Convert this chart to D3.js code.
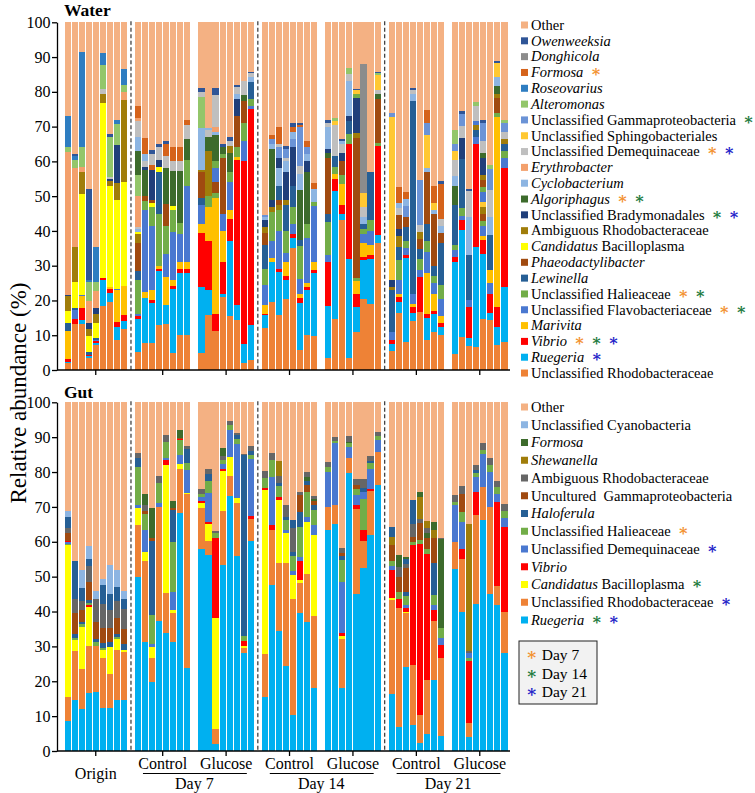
<!DOCTYPE html>
<html><head><meta charset="utf-8">
<script src="https://cdn.jsdelivr.net/npm/d3@7"></script>
<style>body{margin:0;background:#fff}svg{display:block}svg text{font-family:"Liberation Serif","Times New Roman",Times,"Nimbus Roman","DejaVu Serif",serif;fill:#000}</style>
</head><body><svg id="c" width="755" height="793" font-family="Liberation Serif, Times New Roman, DejaVu Serif, serif"></svg>
<script>
// ---------- categories (legend order, top to bottom) ----------
const waterKeys = ["Other","Ow","Do","Fo","Ro","Al","UG","US","UD","Er","Cy","Ag","UB","AR","CB","Ph","Le","UH","UF","Ma","Vi","Ru","UR"];
const waterLabels = ["Other","Owenweeksia","Donghicola","Formosa","Roseovarius","Alteromonas","Unclassified Gammaproteobacteria","Unclassified Sphingobacteriales","Unclassified Demequinaceae","Erythrobacter","Cyclobacterium","Algoriphagus","Unclassified Bradymonadales","Ambiguous Rhodobacteraceae","Candidatus Bacilloplasma","Phaeodactylibacter","Lewinella","Unclassified Halieaceae","Unclassified Flavobacteriaceae","Marivita","Vibrio","Ruegeria","Unclassified Rhodobacteraceae"];
const waterStars = ["","","","o","","","g","","ob","","","og","gb","","","","","og","og","","ogb","b",""];

const gutKeys = ["Other","UC","Fo","Sh","AR","UG","Ha","UH","UD","Vi","CB","UR","Ru"];
const gutLabels = ["Other","Unclassified Cyanobacteria","Formosa","Shewanella","Ambiguous Rhodobacteraceae","Uncultured  Gammaproteobacteria","Haloferula","Unclassified Halieaceae","Unclassified Demequinaceae","Vibrio","Candidatus Bacilloplasma","Unclassified Rhodobacteraceae","Ruegeria"];
const gutStars = ["","","","","","","","o","b","","g","b","gb"];

const dayLabels = ["Day 7","Day 14","Day 21"];
const treatmentLabels = ["Control","Glucose"];
const originLabel = "Origin";

// ---------- water values (% per bar, bottom to top segments) ----------
const waterOrigin = [
 [["UR",1.9],["Ru",0.4],["Vi",0.9],["Ma",7.9],["Le",2.4],["CB",3.6],["AR",4.1],["UB",0.5],["Er",40.9],["Al",1.4],["Ro",9]],
 [["UR",13.3],["Vi",1.4],["UF",2.5],["Le",0.7],["CB",7.5],["AR",10.1],["Er",22.5],["Al",2.5],["Ro",1],["Ow",0.5]],
 [["UR",13.3],["Ru",1.2],["Vi",3.4],["Ma",3.3],["UF",0.5],["CB",29],["AR",6.2],["Er",1.4],["Al",5.9],["Ro",27.2]],
 [["UR",3.5],["Ru",0.5],["Vi",0.4],["Le",0.8],["CB",4.5],["AR",2],["UB",1.8],["Er",6.3],["Al",5.5],["Ro",0.5],["Ow",26.2]],
 [["UR",7.3],["Ru",0.6],["Vi",0.3],["UF",0.5],["Le",0.5],["CB",4.3],["AR",2.5],["UB",1.8],["Er",5],["Al",2.6],["Ro",10]],
 [["UR",18.5],["Ru",7.5],["Vi",0.5],["CB",50.2],["AR",2.8],["UD",1.3],["Al",6.8],["Ro",3.5]],
 [["UR",19.7],["Ru",2.5],["Vi",1.2],["Ma",0.5],["CB",29],["AR",1.6],["UB",0.5],["UD",0.5],["Al",11.5],["Ow",0.8]],
 [["UR",8.7],["Ru",3.8],["Vi",1.4],["Ma",9],["UF",0.5],["CB",25.6],["AR",4.8],["UB",10.8],["Al",6.1],["Ro",1.1]],
 [["UR",11.8],["Ru",2.2],["Vi",1.9],["Ma",8.2],["CB",30],["AR",23.5],["Er",2.4],["Al",2],["Ro",4.6]]
];
const waterD7Control = [
 [["UR",5.3],["Ru",9.5],["Vi",0.6],["UF",0.6],["UH",10],["Le",2.5],["Ph",8],["AR",2.5],["CB",0.7],["Cy",0.8],["UD",0.5],["Er",9],["Al",6],["Ag",7],["Cy",4],["UD",4.5],["Er",1],["Fo",3.3]],
 [["UR",7.7],["Ru",13],["Ma",1.6],["UF",23.7],["UH",2.5],["Ph",1.5],["Ag",7.5],["UB",1],["UD",1.5],["Cy",2],["Fo",4.8]],
 [["UR",7.9],["Ru",11.4],["Vi",0.7],["Ma",3],["UF",18.5],["UH",5.5],["CB",1],["Ph",1],["UB",8.5],["Fo",1.5],["UD",3],["Ow",1.4]],
 [["UR",13],["Ru",15.5],["Vi",0.5],["Ma",1],["UH",15],["Le",12],["CB",1.5],["UB",2],["UD",3.5],["Ow",1]],
 [["UR",13.3],["Ru",5.5],["Ma",8],["UF",6.5],["UH",8],["Ph",6.5],["Ag",10.3],["UD",3.5],["Fo",3.3],["Ow",0.9]],
 [["UR",4.8],["Ru",18.4],["Vi",1.1],["Ma",1.5],["UF",13.8],["UH",6.5],["CB",1],["Ag",10],["UD",3],["Fo",3.9]],
 [["UR",10.1],["Ru",17.9],["Vi",1],["Ma",2.2],["UF",8],["UH",3],["Ag",15],["UD",2.8],["Fo",4]],
 [["UR",10],["Ru",18],["Vi",1],["Ma",2],["UF",22],["UH",7.5],["Ag",6],["UD",4],["Fo",1.5]]
];
const waterD7Glucose = [
 [["UR",4.8],["Ru",19.1],["Vi",15.5],["Ma",2.6],["UF",5.5],["Le",2],["Ph",7.5],["AR",0.5],["Cy",12],["Al",9],["UD",1.5],["Ow",1]],
 [["UR",15.9],["Ru",7.1],["Vi",14],["Ma",10],["UH",3],["AR",13],["Ag",4],["UD",2],["Cy",0.5]],
 [["UR",11.1],["Vi",5],["Ma",33.4],["UH",1.5],["Ph",3],["UF",4],["UH",2],["Ag",7.5],["Cy",1],["Er",1.5],["UD",9],["Ow",2]],
 [["UR",21],["Ru",0.8],["Vi",9.2],["Ma",9],["UF",5],["Ph",16],["UH",1],["Ag",2],["Ow",1]],
 [["UR",15.4],["Ru",21.6],["Vi",6.5],["Ma",2.5],["UF",8],["UH",3],["Ag",5.5],["AR",2],["UD",1.5],["Ow",1]],
 [["UR",14.5],["Ru",4.2],["Vi",41.8],["Ma",0.8],["UH",2.7],["Ph",9],["UB",5],["Cy",1.5],["UD",2],["Ow",0.5]],
 [["UR",2],["Ru",5.5],["Vi",52.5],["UF",6],["UH",5],["Ph",6.5],["Ag",1.5],["UD",4]],
 [["UR",2.8],["Ru",10.2],["Vi",62],["UF",1],["UH",1.8],["Le",5],["Cy",1.5],["UD",1],["Ow",0.5]]
];
const waterD14Control = [
 [["UR",12],["Ru",3.8],["Vi",0.3],["Ma",2.6],["UF",5.7],["UH",4.6],["Le",7],["Ph",3.5],["AR",1.5],["UB",2],["Cy",1],["UG",0.5]],
 [["UR",19.6],["Ru",11.4],["Ma",1.2],["UF",5],["UH",8.3],["AR",1.5],["UB",2],["Ag",14.7],["Cy",1.3],["UG",1.5],["Fo",1]],
 [["UR",15.7],["Ru",12.5],["Vi",0.8],["UF",11],["UH",6],["AR",1.5],["Ph",1.5],["Le",4],["Cy",5],["UB",3],["UG",3],["UD",1],["Fo",5]],
 [["UR",20.3],["Ru",5.7],["Vi",1],["Ma",4],["UF",2.7],["UH",6.3],["Le",7.5],["AR",1.5],["UB",8],["Cy",3],["UD",1],["UG",2.5],["Ow",1]],
 [["UR",35],["Ru",3],["Vi",1],["UF",3],["UH",5],["Le",6],["UB",11],["UG",2.5],["Cy",2],["Fo",1.5],["Ow",0.9]],
 [["UR",5.7],["Ru",13.6],["Vi",1.5],["Ma",1],["UF",4.5],["UH",9.5],["Le",1.5],["Ag",14.5],["Cy",4.5],["UD",2.5],["UG",11],["Fo",0.7],["Ow",0.5]],
 [["UR",10],["Ru",13],["Vi",1],["Ma",1],["UF",13],["UH",4],["Ag",15],["UB",3],["Cy",2],["UG",2],["Fo",2]],
 [["UR",9.9],["Ru",18],["Vi",0.8],["Ma",2.5],["UF",16],["UH",1],["Cy",4],["Fo",1.5]]
];
const waterD14Glucose = [
 [["UR",3.4],["Ru",15.1],["Vi",12.5],["UF",2],["UH",9.5],["Le",2.5],["Ph",16],["Ag",1.5],["UB",1],["Cy",6.5],["UD",1],["Ow",0.8]],
 [["UR",14.6],["Ru",37],["Vi",3.4],["Ma",1.5],["UH",2],["Le",3],["UD",9],["US",1],["Al",1.1]],
 [["UR",43],["Ru",2],["Vi",2.5],["Ma",6],["UH",2.5],["Ph",4],["UB",2.5],["UD",2.5],["Cy",1],["Ow",0.5]],
 [["UR",3.5],["Ru",28.5],["Vi",33],["UH",3],["Le",3.5],["UB",1.5],["Cy",10],["UD",2],["Al",1.8]],
 [["UR",11],["Ru",7.2],["Vi",3.8],["Ma",3.6],["UH",1],["Ph",40],["AR",1.5],["UB",10],["UH",1.4],["US",0.9],["Ow",0.5]],
 [["UR",20.5],["Ru",11],["Vi",1],["Ma",4],["UF",2.5],["UH",1.5],["Le",1.5],["Cy",2],["UD",3],["US",4],["Do",37]],
 [["UR",19],["Ru",13],["Vi",1],["Ma",3],["UF",4],["UH",3],["Le",14]],
 [["UR",36.4],["Ru",2.4],["Vi",25.6],["UH",1],["Ph",12.5],["Ag",1.5],["UD",1],["US",4.5],["Al",0.5],["Ow",0.3]]
];
const waterD21Control = [
 [["UR",5.5],["Ru",2],["Vi",1.2],["UF",2.2],["Le",12],["AR",1],["UB",2],["US",47],["UG",1]],
 [["UR",16.3],["Ru",3.3],["Vi",1.4],["Ma",1],["UF",4],["UH",5.5],["Le",4],["AR",3],["UB",2],["Ph",4],["UD",2],["Cy",1.5],["Fo",4.5]],
 [["UR",8.1],["Ru",24],["Vi",1],["UF",2],["UH",2],["Le",4],["Ph",3],["UG",3],["Cy",2],["Fo",2]],
 [["UR",14],["Ru",2.5],["Vi",1.5],["Ma",1],["UF",3],["Le",55.5],["Cy",2],["UD",1],["Ow",0.5]],
 [["UR",16.8],["Vi",10],["UF",2],["UH",3],["Le",3],["Ph",3],["AR",2],["UD",2],["UG",12.8]],
 [["UR",8.6],["Ru",6.4],["Vi",1],["Ma",12],["UF",6],["UH",3],["Le",5],["Ph",15],["Cy",1],["US",9.5],["UG",3.5],["Fo",3.7]],
 [["UR",11],["Ru",5],["Vi",1],["Ma",5],["UF",3],["UH",2],["Le",3],["Ph",15],["Cy",1],["US",2],["Fo",5]],
 [["UR",10],["Ru",2.5],["Vi",1],["Ma",2],["UF",5],["UH",4],["Le",12],["Ph",3],["Cy",2],["UD",2],["Fo",10],["Ow",1]]
];
const waterD21Glucose = [
 [["UR",4.6],["Ru",26.5],["Vi",1.5],["UF",1.8],["UH",1.5],["Le",11.5],["Ag",5.5],["Cy",3],["UD",4.5],["US",2.5],["UG",2],["Al",4]],
 [["UR",9.6],["Ru",30.6],["Vi",3],["UF",1],["UH",2.5],["Le",14],["UB",6],["UD",3.5],["UG",3.5],["Ow",0.8]],
 [["UR",7],["Ru",2.1],["Vi",9.1],["UF",2],["Le",12.8],["Cy",11],["UD",7.5],["Ow",0.7]],
 [["UR",6.7],["Ru",28.7],["Vi",29.6],["UF",2],["Le",2],["AR",1.5],["UF",1],["UD",4.5],["Al",1]],
 [["UR",14.8],["Ru",18.7],["Vi",3.9],["Ma",1],["UF",3],["UH",1.5],["Ph",2],["AR",2],["US",1.5],["UF",2.8],["UH",1.4],["Ph",2],["AR",1.4],["UB",5],["Ag",1.5],["UD",3.5],["UG",5],["Ow",0.8]],
 [["UR",14.4],["Ru",2],["Vi",5.5],["UF",3],["Ma",4],["Le",10],["Cy",5],["UD",8],["UG",6],["Al",1]],
 [["UR",7.2],["Ru",5.3],["Vi",5.7],["Ma",54.6],["UH",1],["Ph",4.5],["AR",1],["Ag",2.5],["Cy",2.5],["US",4],["Ow",0.5]],
 [["UR",8.1],["Ru",15.9],["Vi",34],["UF",3],["UH",2],["Le",2],["AR",1.5],["UD",2],["UG",2.5],["Al",1]]
];

// ---------- gut values ----------
const gutOrigin = [
 [["Ru",8.7],["UR",6.8],["CB",43.5],["UH",0.5],["UD",0.3],["Vi",0.4],["UG",2.3],["AR",1.5],["Ha",3],["UC",1.7]],
 [["Ru",14.7],["UR",13.9],["CB",3.1],["UH",0.8],["Ha",1],["UG",6],["AR",4],["Ha",11]],
 [["Ru",12],["UR",11.6],["CB",11.9],["UH",0.8],["Ha",0.7],["UG",3.5],["AR",2.5],["Ha",3.8],["UC",5.2]],
 [["Ru",16.6],["UR",13.6],["CB",11.2],["Vi",0.6],["UH",0.5],["Ha",0.8],["UG",5.2],["AR",4.5],["Ha",2],["UC",3.8]],
 [["Ru",16.9],["UR",13.3],["UH",1],["Ha",1],["UG",4.8],["AR",6.5],["UC",2.5]],
 [["Ru",12.4],["UR",14.2],["CB",2.4],["UH",0.5],["Ha",1.5],["UG",4.2],["AR",7],["Ha",5.3],["UC",1.8]],
 [["Ru",12.2],["UR",9.8],["CB",7.8],["Ha",1.5],["UG",4],["AR",5],["Ha",4.7],["UC",8.2]],
 [["Ru",14.5],["UR",14.5],["CB",3],["UH",0.8],["Ha",0.7],["UG",4.5],["AR",5],["Ha",4],["UC",5]],
 [["Ru",14.5],["UR",14],["CB",0.6],["Ha",1.6],["UG",4.3],["AR",5.6],["Ha",3],["UC",2.2]]
];
const gutD7Control = [
 [["Ru",50],["UR",14.8],["CB",5],["UD",0.7],["UH",11],["Ha",2.5],["AR",1.5]],
 [["Ru",31.2],["UR",23.3],["CB",2.5],["UD",6.3],["UH",4.7],["UG",0.8],["AR",1.8],["Fo",3]],
 [["Ru",19.7],["UR",7.1],["CB",2.9],["UD",0.9],["UH",8.4],["Ha",21.3],["UG",0.8],["Fo",8.7]],
 [["Ru",37.3],["UR",32.7],["UD",1],["UH",6],["AR",2]],
 [["Ru",33.7],["UR",11.7],["CB",36.6],["Vi",1.5],["UD",0.5],["UH",4.5],["AR",2.1]],
 [["Ru",31.3],["UR",8.2],["CB",1],["UD",5],["UH",14.5],["Ha",9],["UG",0.8],["Fo",2]],
 [["Ru",68.3],["UR",12.7],["CB",1.3],["UD",2.7],["UH",4.3],["Vi",0.3],["UG",0.3],["Fo",2.1]],
 [["Ru",23.7],["UR",49.9],["CB",0.5],["UD",6.4],["UH",2],["Ha",4],["AR",1.1]]
];
const gutD7Glucose = [
 [["Ru",58],["UR",11.6],["CB",1.4],["Vi",0.8],["UD",1],["UH",1],["AR",1.4]],
 [["Ru",56.3],["UR",3.9],["CB",4.8],["Vi",0.6],["UD",8.4],["UH",3.5],["Ha",2],["AR",1.3]],
 [["Ru",1.9],["UR",4.4],["CB",31.9],["Vi",22.8],["UH",1.5],["AR",0.5]],
 [["Ru",53.2],["UR",15.6],["CB",11.4],["Vi",0.6],["UD",1.4],["UH",1.3],["AR",1],["Fo",2.5]],
 [["Ru",73.2],["UR",5.6],["CB",5.4],["UD",7.8],["UH",1.5],["AR",1.1]],
 [["Ru",55.8],["UR",15.2],["CB",1.6],["UD",15.4],["UH",1.5],["Ha",1],["AR",0.8]],
 [["Ru",28],["UR",1.5],["CB",0.5],["Vi",1.5],["UH",1.5],["Ha",52],["AR",0.3]],
 [["Ru",60.3],["UR",6.2],["Vi",1],["UD",16.3],["UH",1],["Ha",1.2],["AR",1.5]]
];
const gutD14Control = [
 [["Ru",15.6],["UR",12.2],["CB",47],["Vi",0.5],["UH",3],["AR",1.9]],
 [["Ru",47.5],["UR",15.9],["Vi",1.3],["UD",13.8],["UH",4.9],["AR",2.2]],
 [["Ru",34.5],["UR",19.3],["CB",18.1],["Vi",0.8],["UH",3.3],["Ha",0.8],["AR",2],["Sh",4.3]],
 [["Ru",24.5],["UR",29.3],["CB",8.6],["UD",1],["UH",2.8],["Ha",1],["AR",3.3]],
 [["Ru",10.3],["UR",33.2],["CB",7],["UD",1],["UH",4.5],["Ha",1],["AR",7],["Ha",2.2]],
 [["Ru",39.6],["UR",8.5],["CB",1],["Vi",5.5],["UD",1],["UH",8.7],["Ha",4.3],["UG",4.8],["AR",0.9]],
 [["Ru",37],["UR",13.9],["CB",14.8],["UD",1.5],["UH",7],["UG",2],["Ha",1.2],["Fo",1.3],["AR",1.3]],
 [["Ru",18.1],["UR",20.5],["CB",23.3],["UD",2.9],["UH",4.3],["Ha",1.4],["UG",1.2],["Fo",0.5],["AR",1]]
];
const gutD14Glucose = [
 [["Ru",63.3],["UR",6.7],["UD",10],["UH",1.5],["AR",1.5]],
 [["Ru",65],["UR",5.5],["UD",17.7],["UH",0.7],["AR",1.2]],
 [["Ru",18.1],["UR",14],["CB",0.9],["Vi",0.9],["UD",14.5],["UH",6.4],["Ha",1],["UG",1],["AR",1.5]],
 [["Ru",79.6],["UR",4.4],["UD",3.2],["UH",1],["Fo",0.5],["AR",1.5]],
 [["Ru",45],["UR",24.5],["Vi",1],["UD",2.8],["UH",1.9],["UG",1.2],["AR",1.7]],
 [["Ru",52.5],["UR",7.8],["Vi",3],["UH",9.1],["UD",1.9],["Ha",1],["AR",2.6]],
 [["Ru",62],["UR",12.5],["Vi",0.5],["UD",6],["UH",1.5],["Ha",0.7],["AR",1.3]],
 [["Ru",76.4],["UR",9.4],["UD",3.4],["UH",1.2],["AR",1.2]]
];
const gutD21Control = [
 [["Ru",16.4],["UR",27],["CB",0.6],["Vi",8],["UD",1],["UH",1.5],["UG",4.5],["Sh",2.5],["Ha",2.8]],
 [["Ru",6.8],["UR",34.2],["Vi",2.5],["UH",2],["UG",4.5],["AR",2.8],["Fo",3.4]],
 [["Ru",24.1],["UR",15.4],["CB",0.5],["Vi",1],["UD",1],["UH",2.5],["Ha",1],["UG",7],["AR",1],["Ha",1.5],["Fo",0.6]],
 [["Ru",7.4],["UR",17.2],["Vi",34.4],["UH",1],["UG",1.5],["AR",3.5],["Ha",6.9]],
 [["Ru",2.2],["UR",8.1],["Vi",49],["UH",1.2],["UG",5],["AR",1],["Sh",6.4],["Fo",1.4]],
 [["Ru",4.9],["UR",15.4],["Vi",36.3],["UH",1.4],["UG",3],["Fo",1.5],["AR",1.5],["Sh",2]],
 [["Ru",20.3],["UR",17],["Vi",3],["UD",1.5],["UH",3],["Ha",9],["UG",7.2],["Sh",2.3],["Fo",2.4]],
 [["Ru",4.4],["UR",22.2],["Vi",3.8],["UD",2],["UH",3],["Fo",25.4],["AR",0.3]]
];
const gutD21Glucose = [
 [["Ru",52.3],["UR",7.7],["UD",10.5],["UH",1],["AR",2]],
 [["Ru",39.9],["UR",15.3],["Vi",2.8],["UD",7.7],["UH",2.9],["UG",5.2],["AR",2.2]],
 [["Ru",4.1],["UR",3.8],["Vi",18],["UH",0.8],["UD",1.5],["AR",0.5],["Sh",36.5]],
 [["Ru",42.2],["UR",25.4],["Vi",6.7],["UD",4.3],["UH",1],["Ha",1],["AR",1.4]],
 [["Ru",66.2],["UR",9.5],["UD",9.6],["UH",1],["AR",1.9]],
 [["Ru",45],["UR",25],["UD",10],["UH",2],["AR",2]],
 [["Ru",41.8],["UR",5.5],["Vi",24],["UD",2.5],["UH",2],["AR",1.5]],
 [["Ru",28],["UR",12],["Vi",24.3],["UD",2.4],["UH",2.1],["AR",1.9]]
];

// ---------- styles ----------
const waterColors = {Other:"#f4b183",Ow:"#2f5597",Do:"#8c8c8c",Fo:"#d5631b",Ro:"#2e7dc1",Al:"#93c66a",UG:"#6b93d6",US:"#ffc832",UD:"#bfbfbf",Er:"#f3a06c",Cy:"#8db5e2",Ag:"#3d6b2c",UB:"#203f7a",AR:"#a07d0a",CB:"#ffff00",Ph:"#a04a10",Le:"#265f95",UH:"#72ad48",UF:"#4a78d0",Ma:"#ffc000",Vi:"#ff0000",Ru:"#00b0f0",UR:"#ee8236"};
const gutColors = {Other:"#f4b183",UC:"#8db5e2",Fo:"#3d6b2c",Sh:"#a07d0a",AR:"#666666",UG:"#a04a10",Ha:"#265f95",UH:"#72ad48",UD:"#4a78d0",Vi:"#ff0000",CB:"#ffff00",UR:"#ee8236",Ru:"#00b0f0"};
const starColors = {o:"#f39231",g:"#1e7b3e",b:"#2323c8"};
const FONT = "Liberation Serif, Times New Roman, DejaVu Serif, serif";
const STAR = "\u2217";

const svg = d3.select("#c");

function panel(groups, colors, yBottom, yTop) {
  const slots = [], bars = [];
  groups.forEach((g, gi) => {
    if (gi > 0) slots.push("gap" + gi);
    g.forEach((segs, bi) => { const id = gi + "_" + bi; slots.push(id); bars.push({id, gi, segs}); });
  });
  const x = d3.scaleBand().domain(slots).range([64.5, 507.5]).paddingInner(0.13);
  const y = d3.scaleLinear().domain([0, 100]).range([yBottom, yTop]);
  const g = svg.append("g");
  bars.forEach(b => {
    const ends = Array.from(d3.cumsum(b.segs, s => s[1]));
    const rects = b.segs.map((s, i) => ({key: s[0], v0: i ? ends[i - 1] : 0, v1: ends[i]}));
    const total = ends.length ? ends[ends.length - 1] : 0;
    rects.push({key: "Other", v0: total, v1: 100});
    g.append("g").selectAll("rect").data(rects).enter().append("rect")
      .attr("x", x(b.id)).attr("width", x.bandwidth())
      .attr("y", d => y(d.v1)).attr("height", d => Math.max(0, y(d.v0) - y(d.v1)))
      .attr("fill", d => colors[d.key]).attr("shape-rendering", "crispEdges");
  });
  [1, 3, 5].forEach(gi => {
    const xx = x("gap" + gi) + x.bandwidth() / 2;
    g.append("line").attr("x1", xx).attr("x2", xx).attr("y1", y(100) - 1).attr("y2", y(0))
      .attr("stroke", "#444").attr("stroke-width", 1.3).attr("stroke-dasharray", "4,2.5");
  });
  const ya = g.append("g").attr("transform", "translate(57,0)")
    .call(d3.axisLeft(y).tickValues(d3.range(0, 101, 10)).tickSize(5).tickSizeOuter(0).tickPadding(1.5));
  ya.attr("font-family", FONT);
  ya.select(".domain").attr("stroke", "#000").attr("stroke-width", 1.3);
  ya.selectAll(".tick line").attr("stroke", "#000").attr("stroke-width", 1.3);
  ya.selectAll(".tick text").attr("font-size", 16).attr("fill", "#000");
  g.append("line").attr("x1", 57).attr("x2", 510).attr("y1", y(0)).attr("y2", y(0)).attr("stroke", "#000").attr("stroke-width", 1.3);
  const centers = groups.map((grp, gi) => {
    const a = x(gi + "_0"), bb = x(gi + "_" + (grp.length - 1)) + x.bandwidth();
    return {c: (a + bb) / 2, a, b: bb};
  });
  centers.forEach(ct => g.append("line").attr("x1", ct.c).attr("x2", ct.c).attr("y1", y(0)).attr("y2", y(0) + 5).attr("stroke", "#000").attr("stroke-width", 1.3));
  return {x, y, centers};
}

const water = panel([waterOrigin, waterD7Control, waterD7Glucose, waterD14Control, waterD14Glucose, waterD21Control, waterD21Glucose], waterColors, 370, 22.3);
const gut = panel([gutOrigin, gutD7Control, gutD7Glucose, gutD14Control, gutD14Glucose, gutD21Control, gutD21Glucose], gutColors, 751, 402.3);

svg.append("text").attr("x", 64).attr("y", 16).attr("font-size", 17.5).attr("font-weight", "bold").text("Water");
svg.append("text").attr("x", 64).attr("y", 398).attr("font-size", 17.5).attr("font-weight", "bold").text("Gut");
svg.append("text").attr("transform", "translate(26,393) rotate(-90)").attr("text-anchor", "middle").attr("font-size", 23).text("Relative abundance (%)");

const gc = gut.centers;
svg.append("text").attr("x", gc[0].c).attr("y", 779).attr("text-anchor", "middle").attr("font-size", 16).text(originLabel);
[0, 1, 2].forEach(d => {
  const c1 = gc[1 + d * 2], c2 = gc[2 + d * 2];
  svg.append("text").attr("x", c1.c).attr("y", 769).attr("text-anchor", "middle").attr("font-size", 16).text(treatmentLabels[0]);
  svg.append("text").attr("x", c2.c).attr("y", 769).attr("text-anchor", "middle").attr("font-size", 16).text(treatmentLabels[1]);
  svg.append("line").attr("x1", c1.a + 8).attr("x2", c2.b - 7).attr("y1", 773.5).attr("y2", 773.5).attr("stroke", "#000").attr("stroke-width", 1.2);
  svg.append("text").attr("x", (c1.a + c2.b) / 2).attr("y", 789).attr("text-anchor", "middle").attr("font-size", 16).text(dayLabels[d]);
});

function legend(keys, labels, stars, colors, y0, dy, fs) {
  const lg = svg.append("g");
  keys.forEach((k, i) => {
    const yc = y0 + i * dy;
    lg.append("rect").attr("x", 521).attr("y", yc - 3.5).attr("width", 7).attr("height", 7).attr("fill", colors[k]);
    const t = lg.append("text").attr("x", 531).attr("y", yc + 4.8).attr("font-size", fs).attr("xml:space", "preserve").style("white-space", "pre");
    const lab = labels[i];
    if (lab.startsWith("Candidatus")) {
      t.append("tspan").attr("font-style", "italic").text("Candidatus");
      t.append("tspan").text(lab.slice(10));
    } else if (lab === "Other" || lab.indexOf(" ") >= 0) {
      t.append("tspan").text(lab);
    } else {
      t.append("tspan").attr("font-style", "italic").text(lab);
    }
    stars[i].split("").forEach((s, j) => {
      t.append("tspan").attr("dx", j ? 6 : 7).attr("font-size", fs + 1.5).attr("font-weight", "bold")
        .style("fill", starColors[s]).text(STAR);
    });
  });
}
legend(waterKeys, waterLabels, waterStars, waterColors, 25, 15.82, 14.5);
legend(gutKeys, gutLabels, gutStars, gutColors, 407, 17.75, 14.5);

const db = svg.append("g");
db.append("rect").attr("x", 519).attr("y", 641).attr("width", 78).attr("height", 63).attr("fill", "#f2f2f2").attr("stroke", "#222").attr("stroke-width", 1);
["o", "g", "b"].forEach((s, i) => {
  const yc = 654.5 + i * 18.5;
  const t = db.append("text").attr("x", 526).attr("y", yc + 5.5).attr("font-size", 15.5).attr("xml:space", "preserve").style("white-space", "pre");
  t.append("tspan").attr("font-size", 17).attr("font-weight", "bold").style("fill", starColors[s]).text(STAR);
  t.append("tspan").attr("dx", 4).text(dayLabels[i]);
});
</script></body></html>
